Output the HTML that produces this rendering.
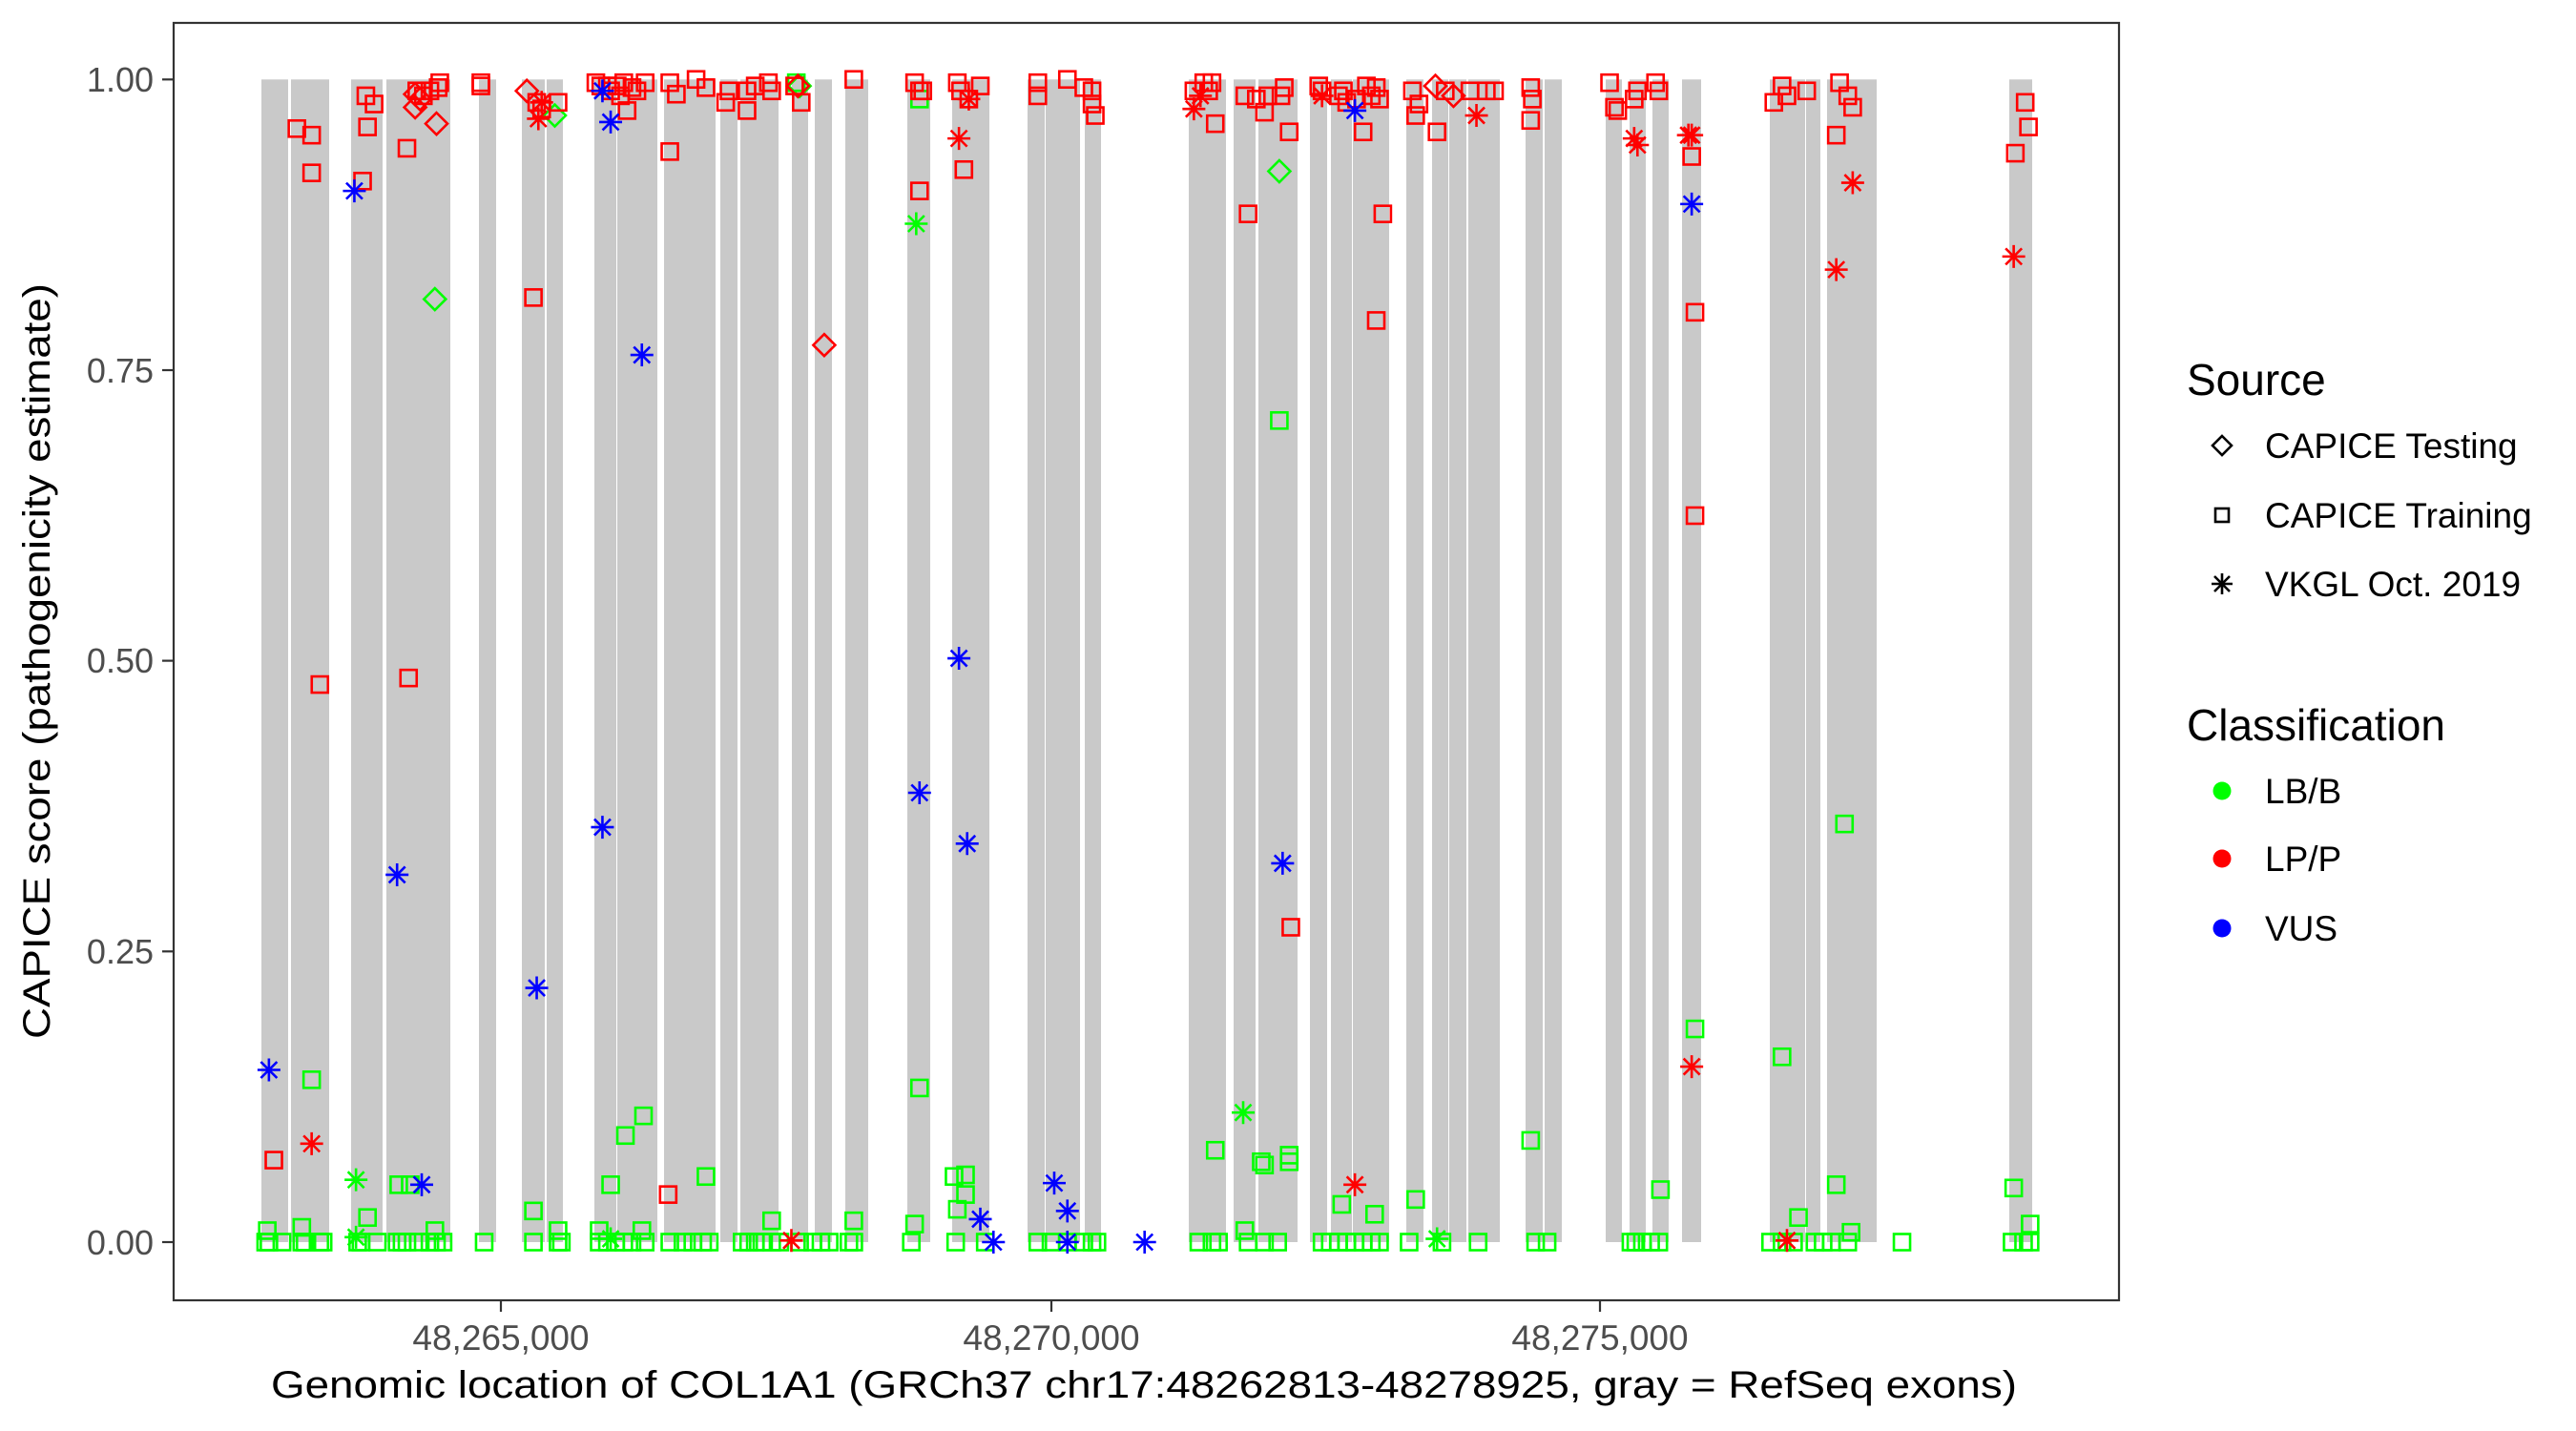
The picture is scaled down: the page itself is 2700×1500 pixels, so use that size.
<!DOCTYPE html>
<html><head><meta charset="utf-8"><style>
html,body{margin:0;padding:0;background:#fff;}
svg{display:block;}
text{font-family:"Liberation Sans",Arial,sans-serif;}
</style></head><body>
<svg id="s" width="2700" height="1500" viewBox="0 0 2700 1500" xmlns="http://www.w3.org/2000/svg">
<rect x="0" y="0" width="2700" height="1500" fill="#fff"/>
<g id="bands" fill="#c9c9c9"></g>
<g id="pts" fill="none" stroke-width="2.6"></g>
<rect x="182" y="24" width="2039" height="1339" fill="none" stroke="#333" stroke-width="2.2"/>
<g stroke="#333" stroke-width="2.2">
<line x1="170" y1="83.3" x2="182" y2="83.3"/><line x1="170" y1="388" x2="182" y2="388"/>
<line x1="170" y1="692.6" x2="182" y2="692.6"/><line x1="170" y1="997.3" x2="182" y2="997.3"/>
<line x1="170" y1="1302" x2="182" y2="1302"/>
<line x1="525" y1="1363" x2="525" y2="1375"/><line x1="1102" y1="1363" x2="1102" y2="1375"/><line x1="1677" y1="1363" x2="1677" y2="1375"/>
</g>
<g fill="#4d4d4d" font-size="36" text-anchor="end">
<text x="161" y="96">1.00</text><text x="161" y="401">0.75</text><text x="161" y="705">0.50</text><text x="161" y="1010">0.25</text><text x="161" y="1315">0.00</text>
</g>
<g fill="#4d4d4d" font-size="37" text-anchor="middle">
<text x="525" y="1415">48,265,000</text><text x="1102" y="1415">48,270,000</text><text x="1677" y="1415">48,275,000</text>
</g>
<text x="1199" y="1465" font-size="40" text-anchor="middle" textLength="1830" lengthAdjust="spacingAndGlyphs">Genomic location of COL1A1 (GRCh37 chr17:48262813-48278925, gray = RefSeq exons)</text>
<text transform="translate(52,693) rotate(-90)" font-size="40" text-anchor="middle" textLength="792" lengthAdjust="spacingAndGlyphs">CAPICE score (pathogenicity estimate)</text>
<g font-size="46"><text x="2292" y="414">Source</text><text x="2292" y="776">Classification</text></g>
<g font-size="37"><text x="2374" y="480">CAPICE Testing</text><text x="2374" y="553">CAPICE Training</text><text x="2374" y="625">VKGL Oct. 2019</text>
<text x="2374" y="842">LB/B</text><text x="2374" y="913">LP/P</text><text x="2374" y="986">VUS</text></g>
<g fill="none" stroke="#000" stroke-width="2.6">
<path d="M2329 457 L2339 467 L2329 477 L2319 467 Z"/>
<rect x="2322" y="533" width="14" height="14"/>
<path d="M2318 612 H2340 M2329 601 V623 M2321 604 L2337 620 M2337 604 L2321 620"/>
</g>
<circle cx="2329" cy="829" r="9.5" fill="#00ff00"/>
<circle cx="2329" cy="900" r="9.5" fill="#ff0000"/>
<circle cx="2329" cy="973" r="9.5" fill="#0000ff"/>
</svg>
<script>
var NS="http://www.w3.org/2000/svg";
var bands=[[274,302],[305,345],[368,401],[405,472],[502,520],[547,571],[573,590],[623,646],[647,689],[696,750],[755,773],[776,816],[830,847],[854,872],[886,910],[951,975],[998,1037],[1077,1095],[1096,1132],[1137,1154],[1246,1285],[1293,1316],[1319,1360],[1373,1391],[1395,1417],[1418,1456],[1474,1492],[1501,1518],[1519,1537],[1539,1572],[1599,1617],[1619,1637],[1683,1700],[1708,1725],[1732,1749],[1763,1783],[1855,1892],[1893,1908],[1915,1967],[2106,2130]];
var bg=document.getElementById("bands");
bands.forEach(function(b){var r=document.createElementNS(NS,"rect");r.setAttribute("x",b[0]);r.setAttribute("y",83.3);r.setAttribute("width",b[1]-b[0]);r.setAttribute("height",1302-83.3);bg.appendChild(r);});
var pg=document.getElementById("pts");
function X(d){return 182+(d-106)*1.722;}
function Y(d){return 1302-(757-d)*1.719;}
function sq(x,y,c){var r=document.createElementNS(NS,"rect");r.setAttribute("x",X(x)-8.5);r.setAttribute("y",Y(y)-8.5);r.setAttribute("width",17);r.setAttribute("height",17);r.setAttribute("stroke",c);pg.appendChild(r);}
function di(x,y,c){var p=document.createElementNS(NS,"path");var a=X(x),b=Y(y),h=11.5;p.setAttribute("d","M"+a+" "+(b-h)+"L"+(a+h)+" "+b+"L"+a+" "+(b+h)+"L"+(a-h)+" "+b+"Z");p.setAttribute("stroke",c);pg.appendChild(p);}
function st(x,y,c){var p=document.createElementNS(NS,"path");var a=X(x),b=Y(y),h=12,k=8.5;p.setAttribute("d","M"+(a-h)+" "+b+"H"+(a+h)+"M"+a+" "+(b-h)+"V"+(b+h)+"M"+(a-k)+" "+(b-k)+"L"+(a+k)+" "+(b+k)+"M"+(a+k)+" "+(b-k)+"L"+(a-k)+" "+(b+k));p.setAttribute("stroke",c);pg.appendChild(p);}
var G="#00ff00",R="#ff0000",B="#0000ff";
[162,164,172,184,186,195,197,218,220,230,242,245,248,255,262,266,270,295,325,340,342,365,370,375,380,385,393,408,416,422,428,432,452,456,460,464,470,475,487,495,500,505,517,520,555,582,600,632,640,650,660,665,668,730,738,742,760,770,778,805,810,815,820,825,830,835,840,858,878,900,935,942,993,996,1000,1005,1010,1078,1085,1092,1105,1110,1115,1125,1158,1225,1232,1236].forEach(function(x){sq(x,757,G);});
[[163,750],[190,658],[184,748],[224,742],[243,722],[250,722],[265,750],[325,738],[340,750],[365,750],[372,722],[381,692],[392,680],[391,750],[430,717],[470,744],[520,744],[557,746],[560,663],[581,717],[588,716],[588,728],[583,737],[740,701],[758,750],[768,708],[770,710],[785,708],[785,704],[779,256],[817,734],[837,740],[862,731],[932,695],[1011,725],[1032,627],[1085,644],[1095,742],[1118,722],[1123,502],[1127,751],[1226,724],[1236,746],[560,60],[485,50]].forEach(function(p){sq(p[0],p[1],G);});
[[217,719],[757,678],[558,136],[217,754],[372,755],[875,755]].forEach(function(p){st(p[0],p[1],G);});
[[265,182],[338,70],[779,104],[487,52]].forEach(function(p){di(p[0],p[1],G);});
[[181,78],[190,82],[190,105],[195,417],[167,707],[221,110],[224,77],[228,63],[223,58],[248,90],[249,413],[254,55],[258,58],[262,55],[267,53],[268,50],[293,50],[293,52],[325,181],[327,62],[330,66],[340,62],[363,50],[366,52],[370,52],[372,55],[376,52],[378,58],[380,50],[382,67],[385,53],[388,55],[393,50],[408,92],[408,50],[412,57],[424,48],[430,53],[442,62],[444,55],[455,67],[455,55],[460,52],[468,50],[470,55],[484,52],[488,62],[520,48],[407,728],[557,50],[560,55],[560,116],[562,55],[583,50],[585,55],[587,103],[590,60],[597,52],[632,50],[632,58],[650,48],[660,53],[665,55],[665,63],[667,70],[727,55],[733,50],[736,55],[738,50],[740,75],[758,58],[760,130],[765,60],[770,68],[772,58],[780,58],[782,53],[785,80],[786,565],[803,52],[805,55],[815,58],[818,55],[820,62],[826,60],[832,52],[835,58],[838,53],[840,60],[830,80],[838,195],[842,130],[860,55],[862,70],[864,63],[875,80],[880,55],[895,55],[905,55],[910,55],[932,53],[933,60],[932,73],[980,50],[983,65],[985,67],[995,60],[997,55],[1008,50],[1010,55],[1030,95],[1032,190],[1032,314],[1080,62],[1085,52],[1088,58],[1100,55],[1118,82],[1120,50],[1125,58],[1128,65],[1233,62],[1227,93],[1235,77]].forEach(function(p){sq(p[0],p[1],R);});
[[321,55],[253,57],[256,60],[266,75],[253,65],[502,210],[885,58],[874,52],[486,52]].forEach(function(p){di(p[0],p[1],R);});
[[190,697],[328,72],[330,62],[482,756],[584,84],[590,60],[727,66],[731,58],[805,58],[825,722],[899,70],[995,84],[997,88],[1028,82],[1030,650],[1088,756],[1118,164],[1128,111],[1226,156],[1030,82]].forEach(function(p){st(p[0],p[1],R);});
[[164,652],[216,116],[242,533],[257,722],[327,602],[367,55],[372,74],[367,504],[391,216],[560,483],[584,401],[589,514],[597,743],[605,757],[642,721],[650,738],[650,757],[697,757],[781,526],[825,67],[1030,124]].forEach(function(p){st(p[0],p[1],B);});
</script>
</body></html>
